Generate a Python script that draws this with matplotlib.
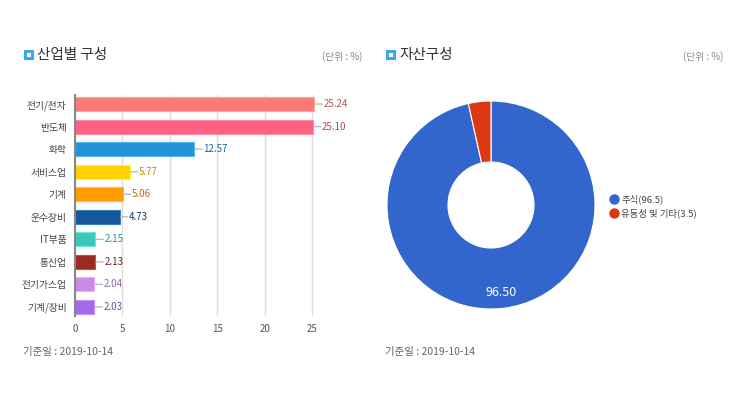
import matplotlib
matplotlib.use("Agg")
import matplotlib.pyplot as plt
from matplotlib.patches import Rectangle
from matplotlib.lines import Line2D
import matplotlib.colors as mcolors
import numpy as np

plt.rcParams['font.family'] = ['Noto Sans CJK KR', 'DejaVu Sans']

# industry composition
industries = ['전기/전자', '반도체', '화학', '서비스업', '기계', '운수장비',
              'IT부품', '통신업', '전기가스업', '기계/장비']
weights = [25.24, 25.10, 12.57, 5.77, 5.06, 4.73, 2.15, 2.13, 2.04, 2.03]
bar_colors = ['#f77b77', '#fe6283', '#2490d8', '#ffd200', '#ff9c00', '#14589a',
              '#3ec7b8', '#9a2a22', '#c88be8', '#a06ae9']
x_ticks = [0, 5, 10, 15, 20, 25]

# asset composition
assets = ['주식', '유동성 및 기타']
asset_values = [96.5, 3.5]
asset_colors = ['#3366cc', '#dc3912']

base_date = '기준일 : 2019-10-14'

W, H = 750, 398
fig = plt.figure(figsize=(W / 100, H / 100), dpi=100)


def fx(px):
    return px / W


def fy(py):
    return 1 - py / H


def header(x_icon, title, x_unit):
    fig.add_artist(Rectangle((fx(x_icon), fy(60)), fx(10), 10 / H,
                             transform=fig.transFigure, fc='#3ea6f0', ec='none'))
    fig.add_artist(Rectangle((fx(x_icon + 3), fy(57)), fx(4), 4 / H,
                             transform=fig.transFigure, fc='white', ec='none'))
    fig.text(fx(x_icon + 13), fy(55), title, fontsize=10.5, color='#333333',
             va='center', ha='left')
    fig.text(fx(x_unit), fy(57), '(단위 : %)', fontsize=7, color='#888888',
             va='center', ha='left')


header(24, '산업별 구성', 322)
header(386, '자산구성', 683)
fig.text(fx(23), fy(352), base_date, fontsize=7.5, color='#666666', va='center')
fig.text(fx(385), fy(352), base_date, fontsize=7.5, color='#666666', va='center')

# ---- bar chart ----
ax = fig.add_axes([fx(75), fy(316), fx(27 * 9.48), (316 - 95) / H])
ypos = list(range(len(industries)))
ax.barh(ypos, weights, height=0.62, color=bar_colors, zorder=3,
        edgecolor=[tuple(min(1, v + 0.15) for v in mcolors.to_rgb(c)) for c in bar_colors],
        linewidth=0.8)
ax.set_xlim(0, 27)
ax.set_ylim(len(industries) - 0.6, -0.4)
ax.set_xticks(x_ticks)
ax.set_yticks(ypos)
ax.set_yticklabels(industries)
ax.tick_params(axis='y', length=0, pad=6, labelsize=7, labelcolor='#444444')
ax.tick_params(axis='x', length=0, pad=6, labelsize=7, labelcolor='#555555')
for s in ['top', 'right', 'bottom']:
    ax.spines[s].set_visible(False)
ax.spines['left'].set_color('#888888')
ax.spines['left'].set_linewidth(1.5)
ax.spines['left'].set_zorder(4)
ax.grid(axis='x', color='#dddddd', linewidth=1, zorder=0)
ax.set_axisbelow(True)

for i, (v, c) in enumerate(zip(weights, bar_colors)):
    dark = tuple(k * 0.72 for k in mcolors.to_rgb(c))
    ax.annotate(f'{v:.2f}', xy=(v, i), xytext=(6.5, 0), textcoords='offset points',
                ha='left', va='center', fontsize=7, color=dark,
                arrowprops=dict(arrowstyle='-', color='#bbbbbb', lw=1,
                                patchA=None, relpos=(0, 0.5),
                                shrinkA=0.8, shrinkB=0.5))

# ---- donut chart ----
R = 104
pax = fig.add_axes([fx(491 - R), fy(205 + R), 2 * R / W, 2 * R / H])
wedges, _ = pax.pie(asset_values, colors=asset_colors, startangle=90,
                    counterclock=False, radius=1,
                    wedgeprops=dict(width=1 - 43 / R, edgecolor='white', linewidth=0.8))
pax.set_xlim(-1, 1)
pax.set_ylim(-1, 1)
pax.set_aspect('equal')
ang = np.deg2rad(90 - asset_values[0] / sum(asset_values) * 180)
pax.text(0.846 * np.cos(ang), 0.846 * np.sin(ang), f'{asset_values[0]:.2f}',
         ha='center', va='center', fontsize=9, color='white')

handles = [Line2D([], [], marker='o', linestyle='none', markersize=6.5,
                  markerfacecolor=c, markeredgecolor=c) for c in asset_colors]
labels = [f'{n}({v})' for n, v in zip(assets, asset_values)]
fig.legend(handles, labels, loc='center left',
           bbox_to_anchor=(fx(610), fy(206)), frameon=False, fontsize=6.8,
           handlelength=0.8, handletextpad=0.4, labelspacing=0.45,
           labelcolor='#444444', borderaxespad=0, borderpad=0)

fig.savefig('out.png', dpi=100)
